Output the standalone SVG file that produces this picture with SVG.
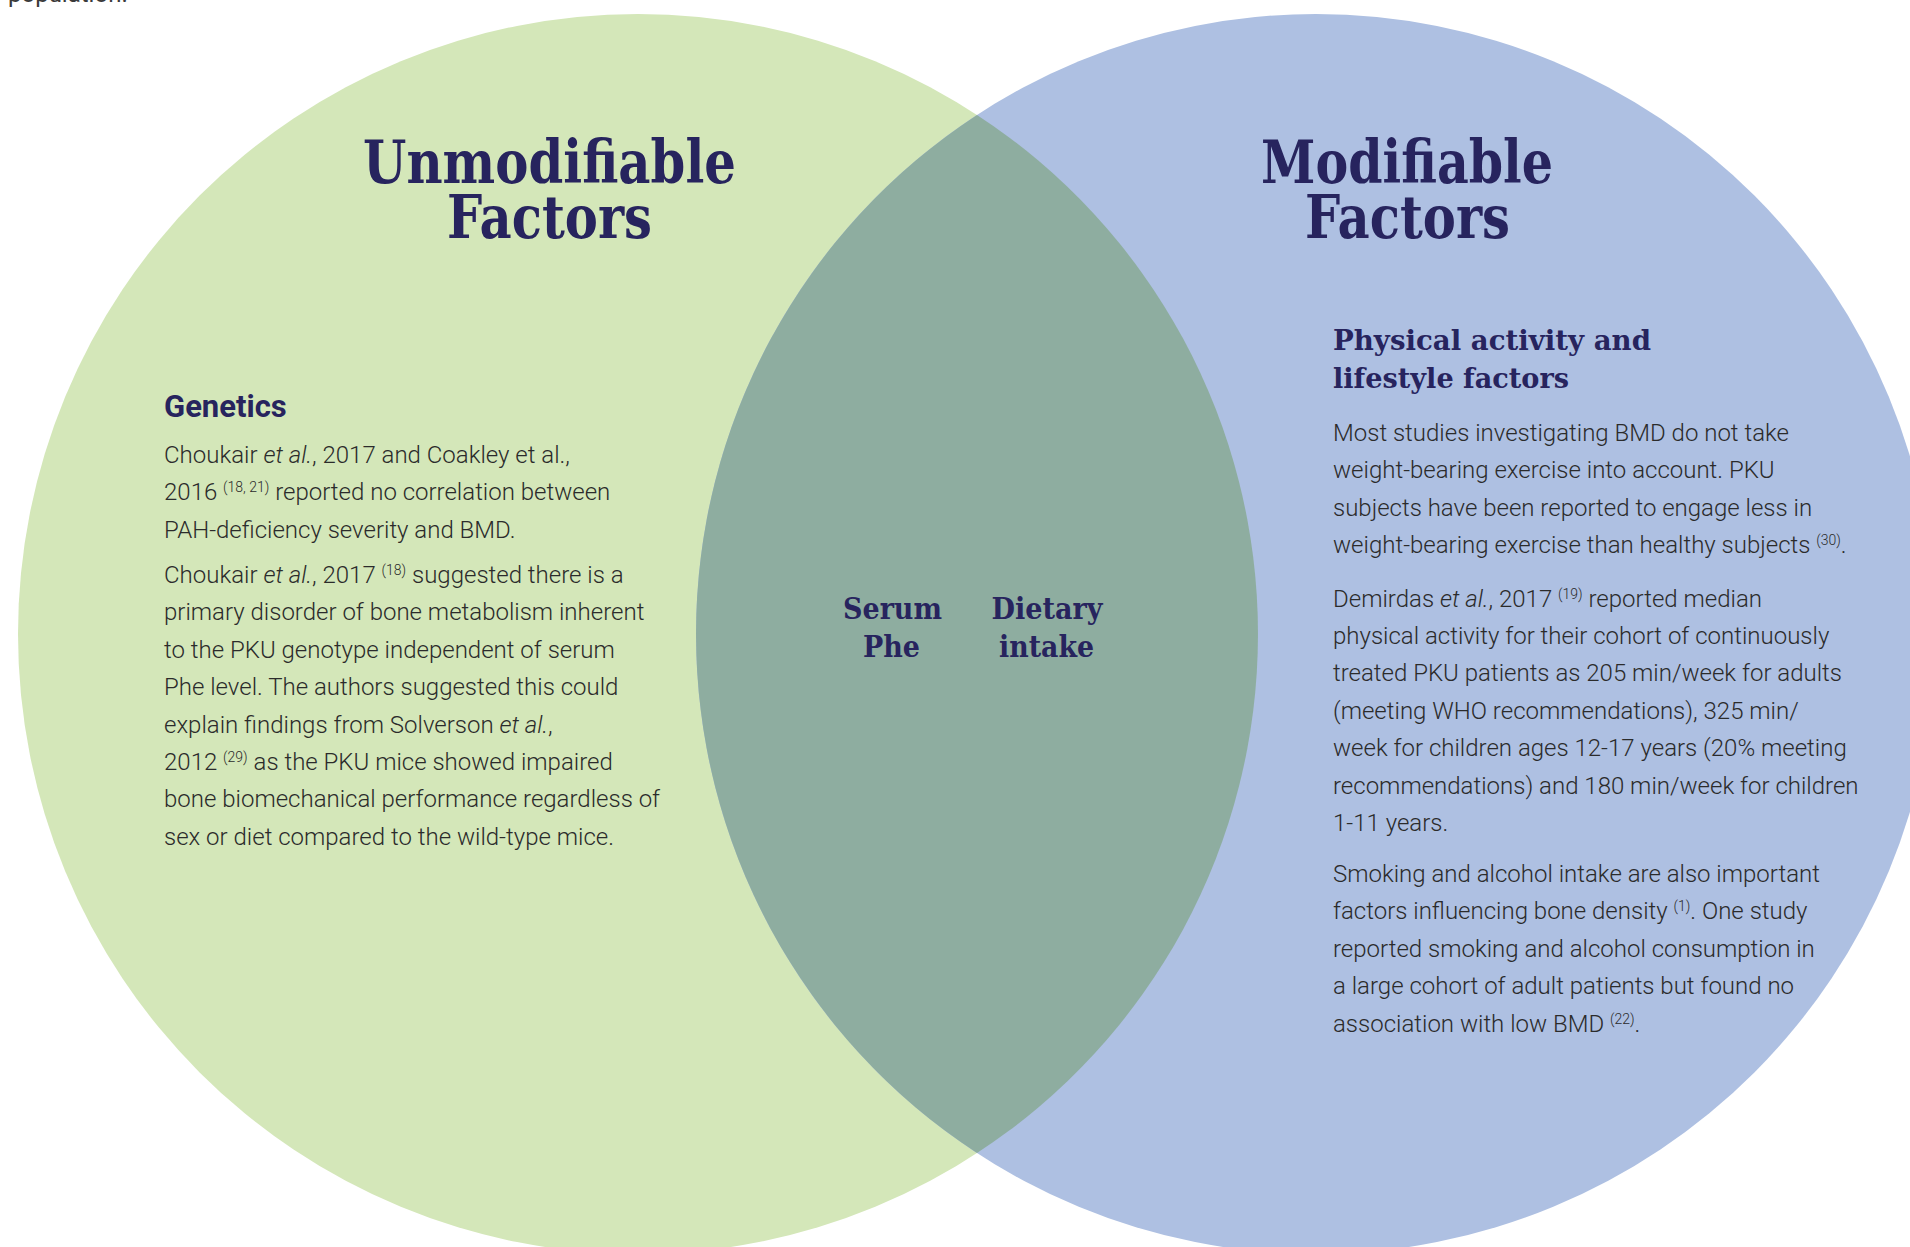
<svg xmlns="http://www.w3.org/2000/svg" width="1910" height="1247" viewBox="0 0 1910 1247">
  <style>
    .slab { font-family: "Roboto Slab", "DejaVu Serif", serif; font-weight: 700; fill: #27245e; }
    .title { font-size: 60px; }
    .sub { font-size: 28px; }
    .mid { font-size: 30px; }
    .gen { font-family: Roboto, "Liberation Sans", sans-serif; font-weight: 700; font-size: 31px; fill: #27245e; }
    .body { font-family: Roboto, "Liberation Sans", sans-serif; font-weight: 300; font-size: 24px; fill: #2b2b2b; }
    .sup { font-size: 14px; }
    .it { font-style: italic; }
  </style>

  <rect x="0" y="0" width="1910" height="1247" fill="#ffffff"/>

  <!-- trailing line of the preceding page text, clipped by the top edge -->
  <text class="body" x="8" y="1.5" style="font-weight:400;fill:#3a3a3a">population.</text>

  <!-- Venn circles and their overlap -->
  <g id="venn">
    <circle id="circle-unmodifiable" cx="638" cy="634" r="620" fill="#d4e7b9"/>
    <circle id="circle-modifiable" cx="1316" cy="634" r="620" fill="#aec0e2"/>
    <path id="overlap" d="M977,114.9 A620,620 0 0 1 977,1153.1 A620,620 0 0 1 977,114.9 Z" fill="#8eada0"/>
  </g>

  <!-- Left set title -->
  <g id="title-unmodifiable" class="slab title" text-anchor="middle">
    <text x="549.5" y="183" textLength="373" lengthAdjust="spacingAndGlyphs">Unmodifiable</text>
    <text x="549.5" y="238" textLength="205" lengthAdjust="spacingAndGlyphs">Factors</text>
  </g>

  <!-- Right set title -->
  <g id="title-modifiable" class="slab title" text-anchor="middle">
    <text x="1407" y="183" textLength="292" lengthAdjust="spacingAndGlyphs">Modifiable</text>
    <text x="1407.5" y="238" textLength="205" lengthAdjust="spacingAndGlyphs">Factors</text>
  </g>

  <!-- Genetics block -->
  <g id="genetics">
    <text class="gen" x="164" y="417">Genetics</text>
    <text class="body" x="164" y="463">Choukair <tspan class="it">et al.</tspan>, 2017 and Coakley et al.,</text>
    <text class="body" x="164" y="500.4">2016 <tspan class="sup" dy="-8">(18, 21)</tspan><tspan dy="8"> reported no correlation between</tspan></text>
    <text class="body" x="164" y="537.8">PAH-deficiency severity and BMD.</text>
    <text class="body" x="164" y="583">Choukair <tspan class="it">et al.</tspan>, 2017 <tspan class="sup" dy="-8">(18)</tspan><tspan dy="8"> suggested there is a</tspan></text>
    <text class="body" x="164" y="620.4">primary disorder of bone metabolism inherent</text>
    <text class="body" x="164" y="657.8">to the PKU genotype independent of serum</text>
    <text class="body" x="164" y="695.2">Phe level. The authors suggested this could</text>
    <text class="body" x="164" y="732.6">explain findings from Solverson <tspan class="it">et al.</tspan>,</text>
    <text class="body" x="164" y="770">2012 <tspan class="sup" dy="-8">(29)</tspan><tspan dy="8"> as the PKU mice showed impaired</tspan></text>
    <text class="body" x="164" y="807.4">bone biomechanical performance regardless of</text>
    <text class="body" x="164" y="844.8">sex or diet compared to the wild-type mice.</text>
  </g>

  <!-- Shared factors in the overlap -->
  <g id="serum-phe" class="slab mid" text-anchor="middle">
    <text x="892.5" y="619" textLength="99" lengthAdjust="spacingAndGlyphs">Serum</text>
    <text x="891.5" y="657" textLength="57" lengthAdjust="spacingAndGlyphs">Phe</text>
  </g>
  <g id="dietary-intake" class="slab mid" text-anchor="middle">
    <text x="1047" y="619" textLength="111" lengthAdjust="spacingAndGlyphs">Dietary</text>
    <text x="1046.5" y="657" textLength="95" lengthAdjust="spacingAndGlyphs">intake</text>
  </g>

  <!-- Physical activity and lifestyle block -->
  <g id="lifestyle">
    <text class="slab sub" x="1333" y="350" textLength="318" lengthAdjust="spacingAndGlyphs">Physical activity and</text>
    <text class="slab sub" x="1333" y="388" textLength="236" lengthAdjust="spacingAndGlyphs">lifestyle factors</text>
    <text class="body" x="1333" y="441">Most studies investigating BMD do not take</text>
    <text class="body" x="1333" y="478.4">weight-bearing exercise into account. PKU</text>
    <text class="body" x="1333" y="515.8">subjects have been reported to engage less in</text>
    <text class="body" x="1333" y="553.2">weight-bearing exercise than healthy subjects <tspan class="sup" dy="-8">(30)</tspan><tspan dy="8">.</tspan></text>
    <text class="body" x="1333" y="606.5">Demirdas <tspan class="it">et al.</tspan>, 2017 <tspan class="sup" dy="-8">(19)</tspan><tspan dy="8"> reported median</tspan></text>
    <text class="body" x="1333" y="643.9">physical activity for their cohort of continuously</text>
    <text class="body" x="1333" y="681.3">treated PKU patients as 205 min/week for adults</text>
    <text class="body" x="1333" y="718.7">(meeting WHO recommendations), 325 min/</text>
    <text class="body" x="1333" y="756.1">week for children ages 12-17 years (20% meeting</text>
    <text class="body" x="1333" y="793.5">recommendations) and 180 min/week for children</text>
    <text class="body" x="1333" y="830.9">1-11 years.</text>
    <text class="body" x="1333" y="882">Smoking and alcohol intake are also important</text>
    <text class="body" x="1333" y="919.4">factors influencing bone density <tspan class="sup" dy="-8">(1)</tspan><tspan dy="8">. One study</tspan></text>
    <text class="body" x="1333" y="956.8">reported smoking and alcohol consumption in</text>
    <text class="body" x="1333" y="994.2">a large cohort of adult patients but found no</text>
    <text class="body" x="1333" y="1031.6">association with low BMD <tspan class="sup" dy="-8">(22)</tspan><tspan dy="8">.</tspan></text>
  </g>
</svg>
